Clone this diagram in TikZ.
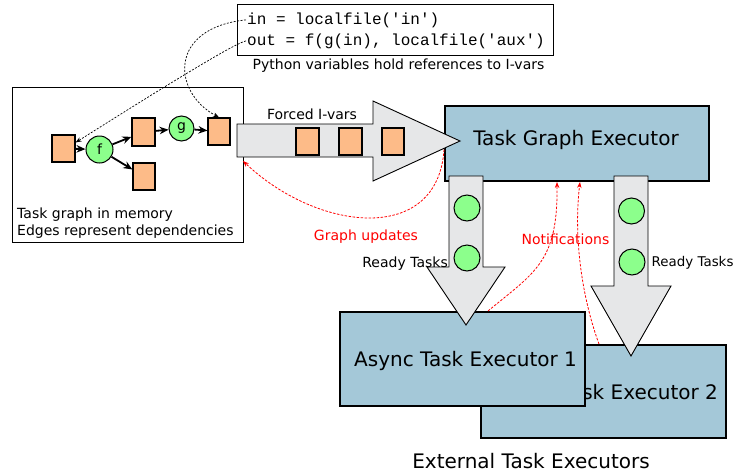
\documentclass[tikz,border=0pt]{standalone}
\usepackage{fontspec}
\setmainfont{DejaVu Sans}
\setmonofont{Liberation Mono}
\usetikzlibrary{arrows.meta,calc}
\definecolor{ivar}{HTML}{FDBB88}
\definecolor{task}{HTML}{8CFF8C}
\definecolor{exec}{HTML}{A4C8D8}
\definecolor{flow}{HTML}{E6E7E8}
\newcommand\lblfont{\fontsize{14}{17}\selectfont}
\newcommand\rdyfont{\fontsize{14}{17}\selectfont}
\newcommand\rdyfontb{\fontsize{13.4}{16}\selectfont}
\newcommand\bigfont{\fontsize{20}{24}\selectfont}
\newcommand\codefont{\ttfamily\fontsize{16}{19}\selectfont}
\tikzset{
  ivarbox/.style={draw, fill=ivar, line width=1.2pt, inner sep=0pt,
    minimum width=23pt, minimum height=27pt},
  taskdot/.style={draw, circle, fill=task, line width=1pt, inner sep=0pt,
    minimum size=26pt},
  execbox/.style={draw, fill=exec, line width=2pt, inner sep=0pt},
  flowarrow/.style={draw, fill=flow, line width=0.9pt, line join=miter},
  dep/.style={line width=1.8pt, -{Stealth[length=9pt,width=7.5pt]}},
  ref/.style={line width=0.7pt, dash pattern=on 2pt off 1.5pt,
    -{Stealth[length=6pt,width=4.5pt]}},
  upd/.style={red, line width=0.8pt, dash pattern=on 2.5pt off 1.5pt,
    -{Stealth[length=6pt,width=4.5pt]}},
  lbl/.style={font=\lblfont, inner sep=0pt},
}
\begin{document}
\begin{tikzpicture}[x=1pt, y=-1pt]
\useasboundingbox (0,0) rectangle (736,474);

% Python code box
\draw[line width=1pt] (237,4) rectangle (553,55);
\node[font=\codefont, inner sep=0pt, anchor=base west] (l1) at (247,24) {in = localfile('in')};
\node[font=\codefont, inner sep=0pt, anchor=base west] (l2) at (247,45) {out = f(g(in), localfile('aux')};
\node[lbl, anchor=base] (pycap) at (398.5,69.5) {Python variables hold references to I-vars};

% task graph in memory
\draw[line width=0.9pt] (12,87) rectangle (243,242);
\node[lbl, anchor=base west] (tg1) at (17,218) {Task graph in memory};
\node[lbl, anchor=base west] (tg2) at (17,235) {Edges represent dependencies};
\node[ivarbox] (sq1) at (63.5,148.5) {};
\node[ivarbox, minimum height=28pt] (sq2) at (143.5,132) {};
\node[ivarbox, minimum width=22pt] (sq3) at (219,131.5) {};
\node[ivarbox, minimum width=22pt] (sq4) at (144,176.5) {};
\node[taskdot, minimum size=27pt, font=\lblfont] (f) at (99.5,149.5) {f};
\node[taskdot, minimum size=25pt, font=\lblfont] (g) at (181.5,128.5) {g};
\draw[dep] (sq1) -- (f);
\draw[dep] (f) -- (sq2);
\draw[dep] (f) -- (sq4);
\draw[dep] (sq2) -- (g);
\draw[dep] (g) -- (sq3);

% references from Python variables
\draw[ref] ([xshift=-1pt]l1.west) .. controls (168,28) and (172,92) .. (sq3.north);
\draw[ref] ([xshift=-1pt]l2.west) .. controls (232,44) and (140,102) .. ([yshift=6pt]sq1.east);

% executors
\node[execbox, minimum width=245pt, minimum height=93pt] (ex2) at (603.5,391.5) {};
\node[font=\bigfont, anchor=base] at (606.5,399) {Async Task Executor 2};
\node[execbox, minimum width=245pt, minimum height=94pt] (ex1) at (462.5,359) {};
\node[font=\bigfont, anchor=base] at (465.5,366) {Async Task Executor 1};
\node[font=\bigfont, anchor=base] (extcap) at (531,468) {External Task Executors};

\node[execbox, minimum width=264pt, minimum height=75pt] (tge) at (577,143.5) {};
\node[font=\bigfont, anchor=base] at (576,145) {Task Graph Executor};

% ready tasks flows
\draw[flowarrow] (449,176) -- (483,176) -- (483,267) -- (505,267) -- (466,325) -- (427,267) -- (449,267) -- cycle;
\node[taskdot] (r1) at (467,208) {};
\node[taskdot] (r2) at (467,258) {};
\draw[flowarrow] (614,176) -- (648,176) -- (648,286) -- (671,286) -- (631,356) -- (591,286) -- (614,286) -- cycle;
\node[taskdot] (r3) at (631.5,211) {};
\node[taskdot] (r4) at (632,262) {};
\node[font=\rdyfont, inner sep=0pt, anchor=base east] at (448,267) {Ready Tasks};
\node[font=\rdyfontb, inner sep=0pt, anchor=base west] at (651.5,266) {Ready Tasks};

% forced I-vars flow
\draw[flowarrow] (237,124) -- (373,124) -- (373,101) -- (460,141) -- (373,181) -- (373,157) -- (237,157) -- cycle;
\coordinate (fsw) at (243,161);
\node[ivarbox] (v1) at (307.5,141.5) {};
\node[ivarbox] (v2) at (350.5,141.5) {};
\node[ivarbox, minimum width=22pt] (v3) at (393,141.5) {};
\node[lbl, anchor=base] at (312,119) {Forced I-vars};

% graph updates and notifications
\draw[upd] ([yshift=-6pt]tge.west) .. controls (438,245) and (318,232) .. (fsw);
\node[lbl, red, anchor=base] at (366,240) {Graph updates};
\draw[upd] ([xshift=25.5pt]ex1.north) .. controls (535,272) and (558,262) .. ([xshift=-20pt]tge.south);
\draw[upd] ([xshift=-4.5pt]ex2.north) .. controls (580,292) and (574,232) .. ([xshift=3pt]tge.south);
\node[lbl, red, anchor=base] at (565.5,244) {Notifications};
\end{tikzpicture}
\end{document}
